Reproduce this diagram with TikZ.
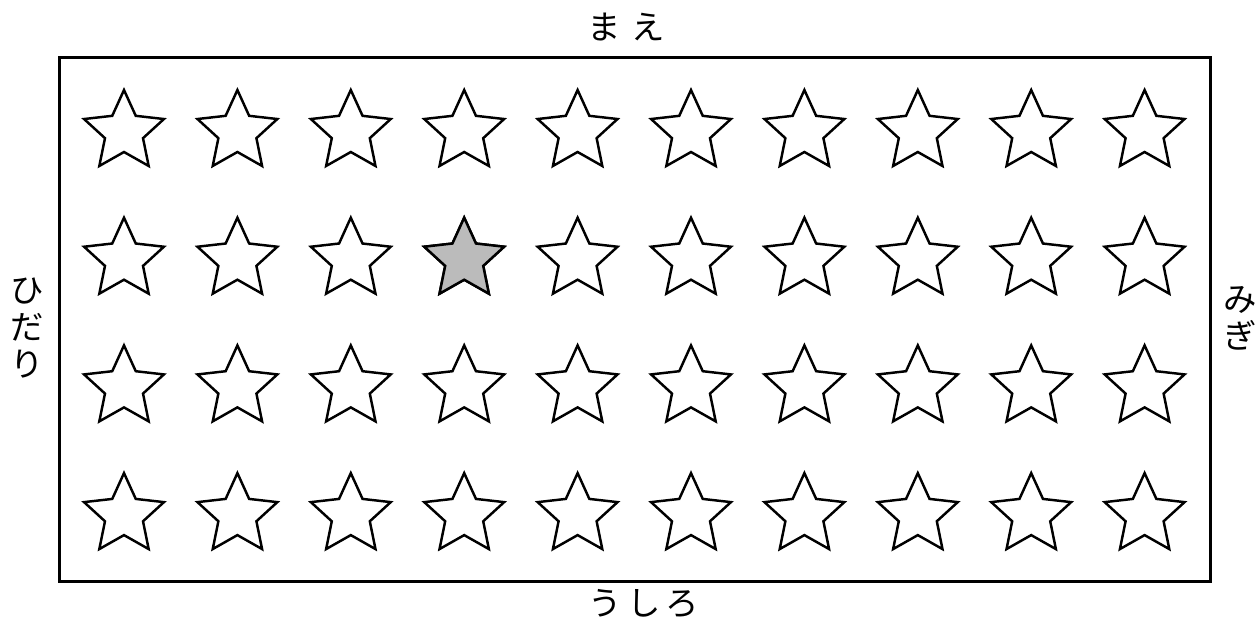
\documentclass[tikz,border=0pt]{standalone}
\usepackage{xcolor}
\usepackage{tikz}
\usepackage{fontspec}
\newfontfamily\jpfont{Noto Sans CJK JP}
\usetikzlibrary{
  shapes.geometric,
  positioning
}
\definecolor{seatGrey}{HTML}{BBBBBB}

\begin{document}
\begin{tikzpicture}[x=0.02cm, y=-0.02cm,
  seat/.style={star, star points=5, star point ratio=2.1, minimum size=1.68cm,
    inner sep=0pt, draw, line width=1.4pt, line join=miter},
  label/.style={font=\jpfont\fontsize{19}{21}\selectfont, align=center, inner sep=0pt}]
  \useasboundingbox (0,0) rectangle (1257,628);
  \node[draw, line width=1.7pt, minimum width=23.04cm, minimum height=10.5cm, inner sep=0pt] (room) at (635,319.5) {};
  \foreach \r in {1,...,4} {
    \foreach \c in {1,...,10} {
      \node[seat] (s-\r-\c) at ({124+(\c-1)*113.4}, {132+(\r-1)*127.7}) {};
    }
  }
  \node[seat, fill=seatGrey] at (s-2-4) {};
  \node[label] (front) at (626,27) {ま\hspace{0.3em}え};
  \node[label] (back) at (644,604) {う\hspace{0.15em}し\hspace{0.15em}ろ};
  \node[label] (left) at (27,328) {ひ\\だ\\り};
  \node[label] (right) at (1240,318) {み\\ぎ};
\end{tikzpicture}
\end{document}
